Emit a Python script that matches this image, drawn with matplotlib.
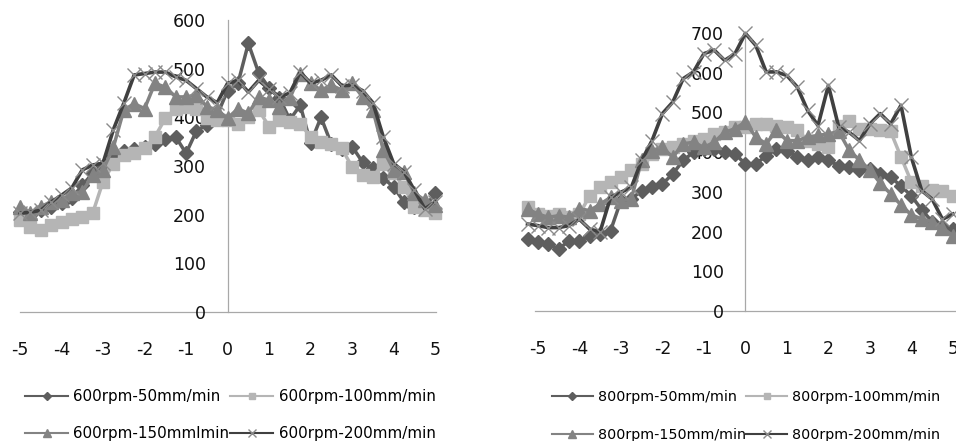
import matplotlib
matplotlib.use("Agg")
import matplotlib.pyplot as plt

plt.rcParams['font.family'] = ['DejaVu Sans']
plt.rcParams['axes.unicode_minus'] = False

# ---------------- data ----------------
x_left = [-5, -4.75, -4.5, -4.25, -4, -3.75, -3.5, -3.25, -3, -2.75, -2.5, -2.25, -2, -1.75,
          -1.5, -1.25, -1, -0.75, -0.5, -0.25, 0, 0.25, 0.5, 0.75, 1, 1.25, 1.5, 1.75, 2,
          2.25, 2.5, 2.75, 3, 3.25, 3.5, 3.75, 4, 4.25, 4.5, 4.75, 5]
x_right = [-5.25] + x_left

labels_left = ["600rpm-50mm/min", "600rpm-100mm/min", "600rpm-150mmlmin", "600rpm-200mm/min"]
labels_right = ["800rpm-50mm/min", "800rpm-100mm/min", "800rpm-150mm/min", "800rpm-200mm/min"]

l50 = [205, 200, 210, 215, 225, 235, 260, 285, 300, 320, 330, 335, 340, 345, 355, 360, 326, 372,
       385, 405, 455, 470, 552, 491, 460, 440, 395, 425, 347, 400, 345, 335, 340, 308, 295, 275,
       257, 226, 215, 215, 244]
l100 = [189, 175, 168, 179, 185, 192, 196, 203, 268, 305, 322, 326, 336, 360, 398, 418, 422, 418,
        398, 394, 394, 387, 401, 415, 381, 394, 391, 387, 360, 350, 346, 336, 298, 281, 278, 305,
        285, 257, 216, 209, 203]
l150 = [216, 203, 216, 227, 230, 244, 247, 281, 292, 339, 415, 428, 418, 470, 462, 442, 442, 446,
        422, 415, 398, 418, 408, 442, 435, 422, 439, 490, 470, 456, 466, 456, 470, 442, 415, 333,
        292, 288, 244, 230, 220]
l200 = [203, 205, 209, 226, 240, 255, 292, 302, 306, 375, 429, 487, 490, 493, 493, 483, 476, 459,
        442, 430, 470, 476, 452, 476, 458, 442, 450, 493, 470, 476, 487, 465, 466, 455, 430, 360,
        305, 288, 250, 212, 226]

r50 = [181, 173, 168, 156, 177, 177, 189, 194, 202, 278, 282, 303, 311, 320, 345, 379, 400, 408,
       408, 400, 396, 370, 370, 391, 408, 404, 387, 379, 387, 379, 366, 362, 354, 358, 345, 337,
       315, 290, 255, 225, 212, 206]
r100 = [261, 244, 240, 244, 236, 244, 290, 311, 324, 337, 354, 370, 396, 408, 412, 421, 429, 434,
        446, 450, 463, 463, 471, 471, 467, 463, 455, 429, 421, 413, 467, 478, 459, 459, 455, 452,
        388, 325, 316, 305, 303, 290]
r150 = [257, 244, 236, 240, 236, 257, 253, 269, 286, 278, 282, 379, 404, 412, 387, 421, 425, 412,
        425, 450, 459, 476, 438, 421, 455, 429, 429, 438, 442, 446, 452, 405, 380, 355, 322, 295,
        267, 242, 232, 225, 209, 190]
r200 = [219, 215, 210, 210, 215, 231, 206, 200, 286, 299, 311, 379, 429, 497, 526, 585, 602, 648,
        657, 631, 648, 699, 669, 602, 602, 593, 564, 505, 467, 568, 463, 450, 429, 471, 497, 471,
        518, 387, 303, 282, 231, 244]

left_ticks_y = [0, 100, 200, 300, 400, 500, 600]
right_ticks_y = [0, 100, 200, 300, 400, 500, 600, 700]
x_ticks = [-5, -4, -3, -2, -1, 0, 1, 2, 3, 4, 5]

# ---------------- styles ----------------
styles = [
    dict(color="#5e5e5e", marker="D", ms=6.8, mfc="#5e5e5e", mec="#5e5e5e", lw=2.5),
    dict(color="#b5b5b5", marker="s", ms=9.0, mfc="#b5b5b5", mec="#b5b5b5", lw=2.5),
    dict(color="#838383", marker="^", ms=9.5, mfc="#838383", mec="#838383", lw=2.5),
    dict(color="#404040", marker="x", ms=10, mfc="none", mec="#8a8a8a", mew=1.0, lw=2.6),
]

W, H = 956, 441
fig = plt.figure(figsize=(W / 100, H / 100), dpi=100)

axis_col = "#a8a8a8"


def make_axes(px_left, px_right, px_y0, px_ytop, xlim, ylim, yticks, xs, series, labels,
              leg_x, leg_top, leg_fs, leg_sp):
    ax = fig.add_axes([px_left / W, 1 - px_y0 / H, (px_right - px_left) / W, (px_y0 - px_ytop) / H])
    ax.set_xlim(*xlim)
    ax.set_ylim(*ylim)
    ax.patch.set_alpha(0)
    for s in ("top", "right"):
        ax.spines[s].set_visible(False)
    ax.spines["left"].set_position(("data", 0))
    for s in ("left", "bottom"):
        ax.spines[s].set_color(axis_col)
        ax.spines[s].set_linewidth(0.9)
        ax.spines[s].set_zorder(0.5)
    ax.set_yticks(yticks)
    ax.set_xticks(x_ticks)
    ax.tick_params(axis="y", length=0, pad=15.5, labelsize=12.5, labelcolor="#111111")
    ax.tick_params(axis="x", length=0, pad=21, labelsize=12.5, labelcolor="#111111")
    handles = []
    for i, (ys, st, lab) in enumerate(zip(series, styles, labels)):
        h, = ax.plot(xs, ys, label=lab, clip_on=False, zorder=2 + i, **st)
        handles.append(h)
    order = [handles[0], handles[2], handles[1], handles[3]]
    leg = ax.legend(order, [h.get_label() for h in order], ncol=2, loc="upper left",
                    bbox_to_anchor=(leg_x / W, 1 - leg_top / H), bbox_transform=fig.transFigure,
                    frameon=False, borderpad=0, borderaxespad=0, fontsize=leg_fs,
                    handlelength=2.85, handletextpad=0.35, columnspacing=0.05,
                    labelspacing=leg_sp, markerscale=0.55)
    for ln in leg.get_lines():
        ln.set_linewidth(1.5)
    return ax


make_axes(20, 436, 312, 20, (-5, 5.02), (0, 600), left_ticks_y, x_left,
          [l50, l100, l150, l200], labels_left, 25, 389, 10.9, 1.45)
make_axes(535, 957, 311, 33, (-5.07, 5.1), (0, 700), right_ticks_y, x_right,
          [r50, r100, r150, r200], labels_right, 552, 390, 10.3, 1.65)

fig.savefig("out.png", dpi=100)
